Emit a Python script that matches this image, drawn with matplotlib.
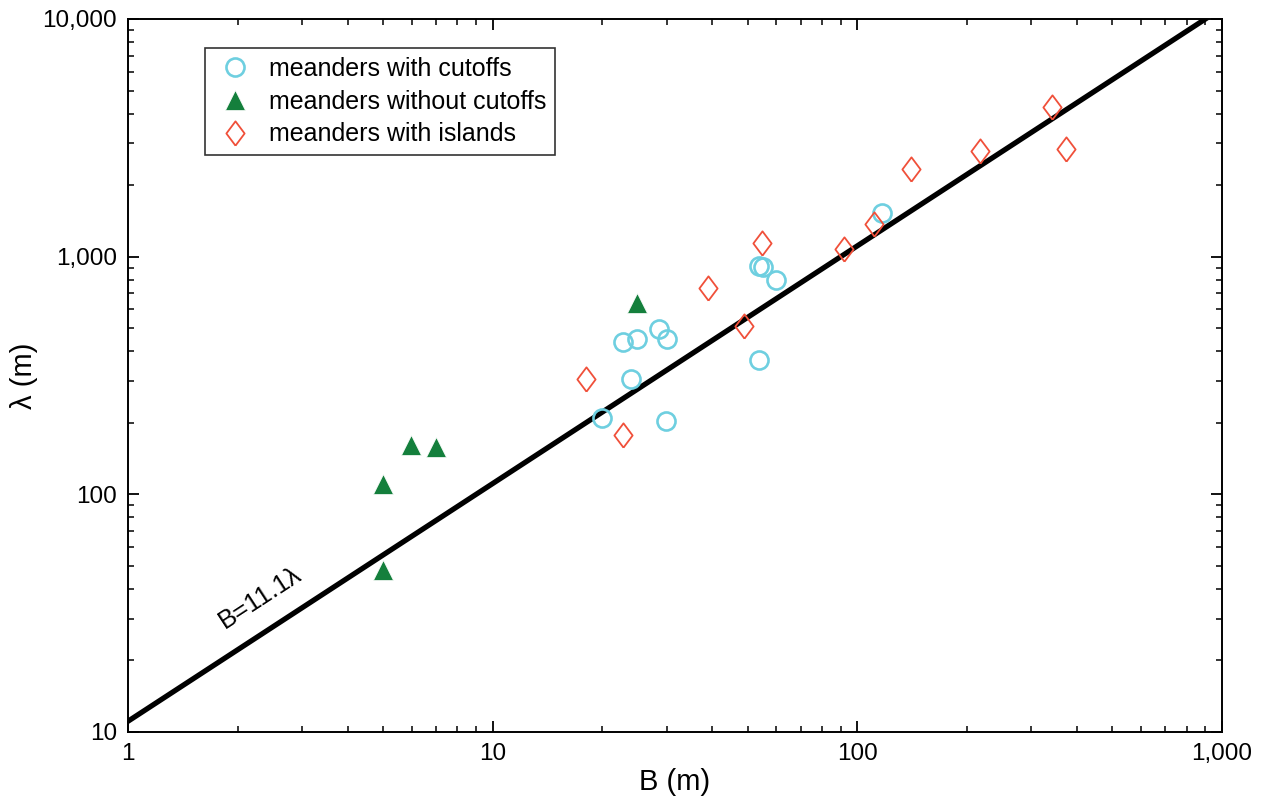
import numpy as np
import matplotlib
matplotlib.use('Agg')
import matplotlib.pyplot as plt
from matplotlib.ticker import FuncFormatter, LogLocator, NullFormatter

plt.rcParams['font.family'] = ['Liberation Sans', 'DejaVu Sans']

# meanders with cutoffs
cut_B = [19.9, 29.9, 23.9, 22.8, 24.9, 28.6, 30.0, 53.7, 53.7, 55.0, 59.8, 117]
cut_L = [209, 204, 305, 437, 451, 497, 451, 367, 914, 905, 798, 1527]
# meanders without cutoffs
nocut_B = [5.0, 5.97, 7.0, 5.0, 24.9]
nocut_L = [110, 161, 158, 48, 638]
# meanders with islands
isl_B = [18.0, 22.8, 38.9, 48.9, 54.7, 91.9, 111, 140, 217, 342, 373]
isl_L = [305, 178, 738, 511, 1143, 1077, 1374, 2338, 2787, 4268, 2838]

fit_coef = 11.1
fit_B = [1, 900]

fig = plt.figure(figsize=(12.69, 8.05), dpi=100)
ax = fig.add_axes([0.1009, 0.0907, 0.8620, 0.8857])

ax.plot(fit_B, [fit_coef * b for b in fit_B], color='black', lw=3.8, zorder=2)

diamond = [(0, -1), (0.75, 0), (0, 1), (-0.75, 0), (0, -1)]
ax.plot(cut_B, cut_L, 'o', ls='none', ms=13, mfc='none', mec='#6ECFE0', mew=1.9,
        label='meanders with cutoffs', zorder=3)
ax.plot(nocut_B, nocut_L, '^', ls='none', ms=15, color='#147F3C', mec='white', mew=0.5,
        label='meanders without cutoffs', zorder=3)
ax.plot(isl_B, isl_L, marker=diamond, ls='none', ms=17.5, mfc='none', mec='#F0503A', mew=1.3,
        label='meanders with islands', zorder=3)

ax.set_xscale('log')
ax.set_yscale('log')
ax.set_xlim(1, 1000)
ax.set_ylim(10, 10000)

fmt = FuncFormatter(lambda v, p: '{:,.0f}'.format(v))
for axis in (ax.xaxis, ax.yaxis):
    axis.set_major_locator(LogLocator(base=10))
    axis.set_minor_locator(LogLocator(base=10, subs=np.arange(2, 10)))
    axis.set_major_formatter(fmt)
    axis.set_minor_formatter(NullFormatter())

ax.tick_params(which='both', direction='in', top=True, right=True, labelsize=17.5, pad=8)
ax.tick_params(which='major', length=8, width=1.3)
ax.tick_params(which='minor', length=4.5, width=1.1)
for s in ax.spines.values():
    s.set_linewidth(1.4)

ax.set_xlabel('B (m)', fontsize=21, labelpad=2)
ax.set_ylabel('λ (m)', fontsize=21, labelpad=3)

ax.text(2.3, 36.6, 'B=11.1λ', fontsize=18.5, rotation=33.1, ha='center', va='center')

leg = ax.legend(loc='upper left', bbox_to_anchor=(0.0704, 0.959), borderaxespad=0,
                fontsize=18, frameon=True, fancybox=False, handletextpad=0.5,
                borderpad=0.35, labelspacing=0.35, handlelength=1.7)
leg.get_frame().set_edgecolor('black')
leg.get_frame().set_linewidth(1.2)

fig.savefig('out.png', dpi=100)
